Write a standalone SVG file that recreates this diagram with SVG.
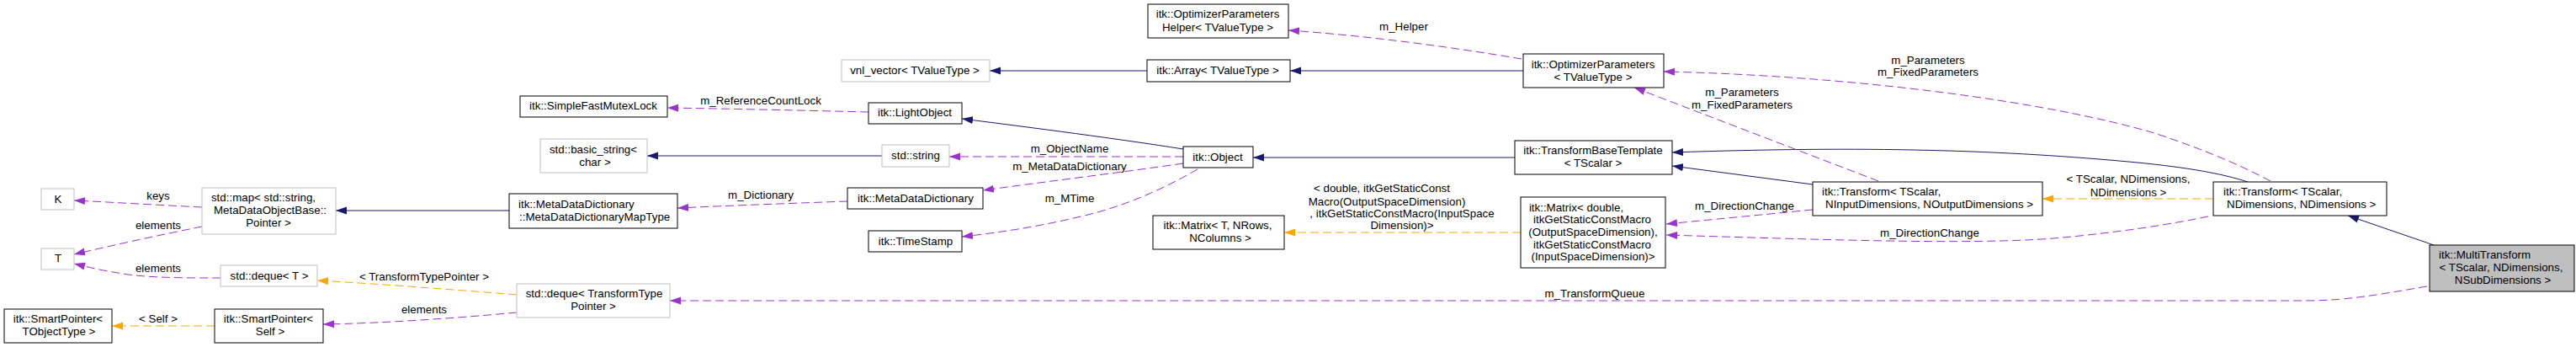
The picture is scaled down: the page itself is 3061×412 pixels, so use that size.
<svg xmlns="http://www.w3.org/2000/svg" width="3061" height="412" viewBox="0 0 3061 412">
<style>
text{font-family:"Liberation Sans",Arial,Helvetica,sans-serif;font-size:13.33px;fill:#000}
.c{text-anchor:middle}
.n rect{fill:#fff;stroke:#000;stroke-width:1}
.u rect{fill:#fff;stroke:#bfbfbf;stroke-width:1}
.m rect{fill:#bfbfbf;stroke:#000;stroke-width:1}
.inh{fill:none;stroke:#191970;stroke-width:1;marker-end:url(#aN)}
.use{fill:none;stroke:#9a32cd;stroke-width:1;stroke-dasharray:10,5;marker-end:url(#aP)}
.tpl{fill:none;stroke:#ffa500;stroke-width:1;stroke-dasharray:10,5;marker-end:url(#aO)}
</style>
<defs>
<marker id="aN" viewBox="0 0 13 10" refX="13" refY="5" markerWidth="13" markerHeight="10" markerUnits="userSpaceOnUse" orient="auto"><path d="M0,0.5 L13,5 L0,9.5 Z" fill="#191970"/></marker>
<marker id="aP" viewBox="0 0 13 10" refX="13" refY="5" markerWidth="13" markerHeight="10" markerUnits="userSpaceOnUse" orient="auto"><path d="M0,0.5 L13,5 L0,9.5 Z" fill="#9a32cd"/></marker>
<marker id="aO" viewBox="0 0 13 10" refX="13" refY="5" markerWidth="13" markerHeight="10" markerUnits="userSpaceOnUse" orient="auto"><path d="M0,0.5 L13,5 L0,9.5 Z" fill="#ffa500"/></marker>
</defs>
<rect x="0" y="0" width="3061" height="412" fill="#fff"/>
<g id="connectors">
<g><path class="inh" d="M605,250 L399,250"/></g>
<g><path class="inh" d="M1048,185 L769,185"/></g>
<g><path class="inh" d="M1363,84 L1176,84"/></g>
<g><path class="inh" d="M1810,84 L1533,84"/></g>
<g><path class="inh" d="M1406,177 C1330,165 1230,152 1143,141"/></g>
<g><path class="inh" d="M1800,187 L1489,187"/></g>
<g><path class="inh" d="M2671,216 C2640,206 2600,199 2540,193 C2380,178 2220,173 1987,181"/></g>
<g><path class="inh" d="M2154,219 L1987,197"/></g>
<g><path class="inh" d="M2892,291 L2790,256"/></g>

<g><path class="use" d="M1032,133 C950,131 860,129 793,128"/><text class="c" x="904" y="124">m_ReferenceCountLock</text></g>
<g><path class="use" d="M1007,239 C950,241 870,244 805,247"/><text class="c" x="904" y="236">m_Dictionary</text></g>
<g><path class="use" d="M1406,186 L1128,186"/><text class="c" x="1271" y="181">m_ObjectName</text></g>
<g><path class="use" d="M1406,194 C1330,205 1240,216 1168,226"/><text class="c" x="1271" y="202">m_MetaDataDictionary</text></g>
<g><path class="use" d="M1423,201 C1390,220 1340,245 1280,258 C1230,270 1180,277 1143,281"/><text class="c" x="1271" y="240">m_MTime</text></g>
<g><path class="use" d="M1808,70 C1720,55 1620,42 1531,36"/><text class="c" x="1668" y="36">m_Helper</text></g>
<g><path class="use" d="M2698,215 C2660,195 2620,178 2560,158 C2430,120 2200,90 1977,85"/><text class="c" x="2291" y="76">m_Parameters</text><text class="c" x="2291" y="90">m_FixedParameters</text></g>
<g><path class="use" d="M2232,215 L1942,104"/><text class="c" x="2070" y="114">m_Parameters</text><text class="c" x="2070" y="129">m_FixedParameters</text></g>
<g><path class="use" d="M2154,249 L1980,266"/><text class="c" x="2073" y="249">m_DirectionChange</text></g>
<g><path class="use" d="M2624,257 C2580,266 2520,276 2440,283 C2340,291 2150,284 1980,279"/><text class="c" x="2293" y="281">m_DirectionChange</text></g>
<g><path class="use" d="M2884,340 C2830,349 2790,357 2740,357 L796,357"/><text class="c" x="1895" y="353">m_TransformQueue</text></g>
<g><path class="use" d="M614,371 C540,378 450,384 384,385"/><text class="c" x="504" y="372">elements</text></g>
<g><path class="use" d="M240,246 C180,243 130,240 88,238"/><text class="c" x="188" y="237">keys</text></g>
<g><path class="use" d="M240,269 C190,279 130,292 88,302"/><text class="c" x="188" y="272">elements</text></g>
<g><path class="use" d="M262,330 C220,330 170,330 140,324 C115,320 100,316 88,313"/><text class="c" x="188" y="323">elements</text></g>

<g><path class="tpl" d="M614,350 C540,344 450,337 377,333"/><text class="c" x="504" y="333">&lt; TransformTypePointer &gt;</text></g>
<g><path class="tpl" d="M1807,276 L1526,276"/><text class="c" x="1642" y="228">&lt; double, itkGetStaticConst</text><text class="c" x="1648" y="244">Macro(OutputSpaceDimension)</text><text class="c" x="1666" y="258">, itkGetStaticConstMacro(InputSpace</text><text class="c" x="1666" y="272">Dimension)&gt;</text></g>
<g><path class="tpl" d="M2630,236 L2427,236"/><text class="c" x="2529" y="217">&lt; TScalar, NDimensions,</text><text class="c" x="2529" y="233">NDimensions &gt;</text></g>
<g><path class="tpl" d="M255,387 L133,387"/><text class="c" x="188" y="383">&lt; Self &gt;</text></g>
</g>

<g id="n_K" class="u"><rect x="49" y="224" width="39" height="25"/><text class="c" x="69" y="241">K</text></g>
<g id="n_T" class="u"><rect x="49" y="295" width="39" height="25"/><text class="c" x="69" y="311">T</text></g>
<g id="n_map" class="u"><rect x="240" y="223" width="159" height="55"/><text class="c" x="313" y="239">std::map&lt; std::string,</text><text class="c" x="321" y="254">MetaDataObjectBase::</text><text class="c" x="319" y="269">Pointer &gt;</text></g>
<g id="n_dequeT" class="u"><rect x="262" y="315" width="115" height="25"/><text class="c" x="320" y="332">std::deque&lt; T &gt;</text></g>
<g id="n_spTObject" class="n"><rect x="5" y="367" width="128" height="40"/><text class="c" x="69" y="383">itk::SmartPointer&lt;</text><text class="c" x="70" y="398">TObjectType &gt;</text></g>
<g id="n_spSelf" class="n"><rect x="255" y="367" width="129" height="40"/><text class="c" x="319" y="383">itk::SmartPointer&lt;</text><text class="c" x="321" y="398">Self &gt;</text></g>
<g id="n_mutex" class="n"><rect x="618" y="114" width="175" height="25"/><text class="c" x="705" y="130">itk::SimpleFastMutexLock</text></g>
<g id="n_basicstring" class="u"><rect x="642" y="165" width="127" height="40"/><text class="c" x="705" y="182">std::basic_string&lt;</text><text class="c" x="707" y="197">char &gt;</text></g>
<g id="n_maptype" class="n"><rect x="605" y="230" width="200" height="41"/><text x="616" y="247">itk::MetaDataDictionary</text><text x="617" y="262">::MetaDataDictionaryMapType</text></g>
<g id="n_dequeTT" class="u"><rect x="614" y="337" width="182" height="40"/><text class="c" x="706" y="353">std::deque&lt; TransformType</text><text class="c" x="705" y="368">Pointer &gt;</text></g>
<g id="n_vnl" class="u"><rect x="1000" y="71" width="176" height="26"/><text class="c" x="1087" y="88">vnl_vector&lt; TValueType &gt;</text></g>
<g id="n_helper" class="n"><rect x="1364" y="5" width="167" height="40"/><text class="c" x="1447" y="21">itk::OptimizerParameters</text><text class="c" x="1447" y="37">Helper&lt; TValueType &gt;</text></g>
<g id="n_array" class="n"><rect x="1363" y="71" width="170" height="26"/><text class="c" x="1447" y="88">itk::Array&lt; TValueType &gt;</text></g>
<g id="n_light" class="n"><rect x="1032" y="122" width="111" height="25"/><text class="c" x="1087" y="138">itk::LightObject</text></g>
<g id="n_string" class="u"><rect x="1048" y="172" width="80" height="26"/><text class="c" x="1088" y="189">std::string</text></g>
<g id="n_mdd" class="n"><rect x="1007" y="223" width="161" height="25"/><text class="c" x="1088" y="240">itk::MetaDataDictionary</text></g>
<g id="n_timestamp" class="n"><rect x="1032" y="274" width="111" height="25"/><text class="c" x="1088" y="291">itk::TimeStamp</text></g>
<g id="n_object" class="n"><rect x="1406" y="174" width="83" height="25"/><text class="c" x="1447" y="191">itk::Object</text></g>
<g id="n_matrixT" class="n"><rect x="1370" y="256" width="156" height="40"/><text class="c" x="1447" y="272">itk::Matrix&lt; T, NRows,</text><text class="c" x="1450" y="287">NColumns &gt;</text></g>
<g id="n_optparams" class="n"><rect x="1810" y="64" width="167" height="40"/><text class="c" x="1893" y="81">itk::OptimizerParameters</text><text class="c" x="1893" y="96">&lt; TValueType &gt;</text></g>
<g id="n_tbt" class="n"><rect x="1800" y="167" width="187" height="40"/><text class="c" x="1893" y="183">itk::TransformBaseTemplate</text><text class="c" x="1893" y="198">&lt; TScalar &gt;</text></g>
<g id="n_matrixD" class="n"><rect x="1807" y="234" width="172" height="84"/><text class="c" x="1873" y="251">itk::Matrix&lt; double,</text><text class="c" x="1892" y="265">itkGetStaticConstMacro</text><text class="c" x="1893" y="280">(OutputSpaceDimension),</text><text class="c" x="1892" y="295">itkGetStaticConstMacro</text><text class="c" x="1893" y="309">(InputSpaceDimension)&gt;</text></g>
<g id="n_transformIO" class="n"><rect x="2154" y="216" width="273" height="40"/><text x="2165" y="232">itk::Transform&lt; TScalar,</text><text x="2169" y="247">NInputDimensions, NOutputDimensions &gt;</text></g>
<g id="n_transformNN" class="n"><rect x="2630" y="216" width="206" height="40"/><text x="2642" y="232">itk::Transform&lt; TScalar,</text><text x="2646" y="247">NDimensions, NDimensions &gt;</text></g>
<g id="n_multi" class="m"><rect x="2887" y="291" width="172" height="55"/><text x="2898" y="307">itk::MultiTransform</text><text class="c" x="2972" y="322">&lt; TScalar, NDimensions,</text><text class="c" x="2974" y="337">NSubDimensions &gt;</text></g>
</svg>
